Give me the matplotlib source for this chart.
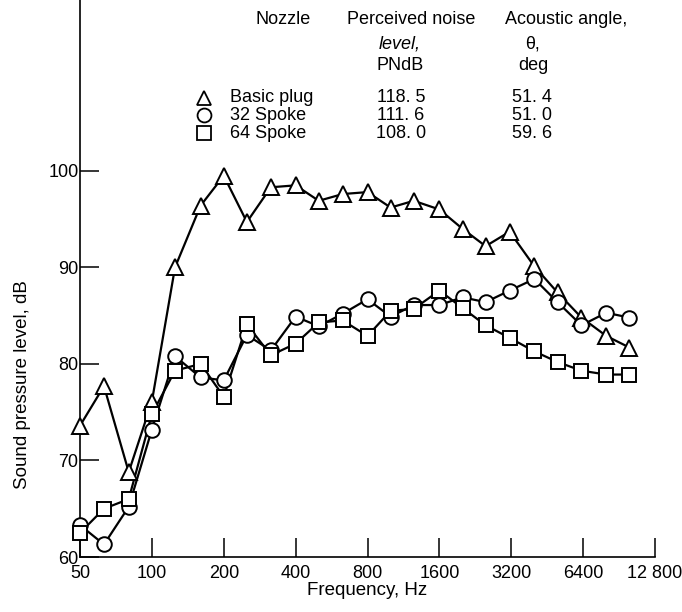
import numpy as np
import matplotlib
matplotlib.use('Agg')
import matplotlib.pyplot as plt
from matplotlib.lines import Line2D

plt.rcParams['font.family'] = ['Liberation Sans', 'DejaVu Sans']

# one-third octave band centre frequencies, Hz
freq = [50, 63, 80, 100, 125, 160, 200, 250, 315, 400, 500, 630, 800,
        1000, 1250, 1600, 2000, 2500, 3150, 4000, 5000, 6300, 8000, 10000]

# sound pressure level, dB
basic_plug = [73.6, 77.7, 68.8, 76.1, 90.0, 96.4, 99.5, 94.7, 98.3, 98.5, 96.9, 97.6, 97.8,
              96.2, 96.9, 96.0, 94.0, 92.2, 93.7, 90.1, 87.4, 84.8, 82.9, 81.7]
spoke_32 = [63.3, 61.3, 65.2, 73.2, 80.8, 78.6, 78.3, 83.0, 81.4, 84.9, 83.9, 85.2, 86.7,
            84.9, 86.1, 86.1, 86.9, 86.4, 87.6, 88.8, 86.4, 84.0, 85.3, 84.8]
spoke_64 = [62.5, 65.0, 66.0, 74.8, 79.3, 80.0, 76.6, 84.1, 80.9, 82.1, 84.3, 84.5, 82.9,
            85.5, 85.7, 87.6, 85.8, 84.0, 82.7, 81.3, 80.2, 79.3, 78.9, 78.9]

nozzles = ['Basic plug', '32 Spoke', '64 Spoke']
pndb = ['118. 5', '111. 6', '108. 0']
angles = ['51. 4', '51. 0', '59. 6']
markers = ['^', 'o', 's']

xticks = [50, 100, 200, 400, 800, 1600, 3200, 6400, 12800]
xticklabels = ['50', '100', '200', '400', '800', '1600', '3200', '6400', '12 800']
yticks = [60, 70, 80, 90, 100]

fig = plt.figure(figsize=(6.82, 6.12), dpi=100)
ax = fig.add_axes([80/682, 1 - 557/612, (655 - 80)/682, 557/612])

series = [basic_plug, spoke_32, spoke_64]
for vals, m in zip(series, markers):
    ax.plot(freq, vals, color='black', lw=1.6, zorder=2)
for vals, m in zip(series, markers):
    ms = 11 if m == '^' else 10.5
    ax.plot(freq, vals, ls='none', marker=m, ms=ms, mfc='white', mec='black',
            mew=1.4, zorder=3, clip_on=False)

ax.set_xscale('log')
ax.set_xlim(50, 12800)
ax.set_ylim(60, 117.7)
ax.set_xticks(xticks)
ax.set_xticklabels(xticklabels)
ax.xaxis.set_minor_locator(matplotlib.ticker.NullLocator())
ax.set_yticks(yticks)
ax.tick_params(direction='in', length=13.5, width=1.1, labelsize=13, pad=6)
ax.tick_params(axis='y', pad=1)
ax.spines['top'].set_visible(False)
ax.spines['right'].set_visible(False)
ax.spines['left'].set_linewidth(1.2)
ax.spines['bottom'].set_linewidth(1.2)
ax.set_xlabel('Frequency, Hz', fontsize=13.5, labelpad=0)
ax.set_ylabel('Sound pressure level, dB', fontsize=13.5, labelpad=8)
ax.yaxis.set_label_coords(-0.085, 0.31)

# key table at top
fs = 13
def ty(py):
    return 1 - py/612

fig.text(283/682, ty(20), 'Nozzle', ha='center', va='center', fontsize=fs)
fig.text(347/682, ty(20), 'Perceived noise', ha='left', va='center', fontsize=fs)
fig.text(400/682, ty(44), 'level,', ha='center', va='center', fontsize=fs, style='italic')
fig.text(400/682, ty(66), 'PNdB', ha='center', va='center', fontsize=fs)
fig.text(505/682, ty(20), 'Acoustic angle,', ha='left', va='center', fontsize=fs)
fig.text(533/682, ty(44), '\u03b8,', ha='center', va='center', fontsize=fs)
fig.text(533/682, ty(66), 'deg', ha='center', va='center', fontsize=fs)

row_y = [98, 115, 133]
for name, p, a, m, ry in zip(nozzles, pndb, angles, markers, row_y):
    fig.add_artist(Line2D([204/682], [ty(ry)], marker=m, ms=10, mfc='white', mec='black',
                          mew=1.3, ls='none', transform=fig.transFigure))
    fig.text(230/682, ty(ry), name, ha='left', va='center', fontsize=fs)
    fig.text(401/682, ty(ry), p, ha='center', va='center', fontsize=fs)
    fig.text(532/682, ty(ry), a, ha='center', va='center', fontsize=fs)

fig.savefig('out.png', dpi=100)
